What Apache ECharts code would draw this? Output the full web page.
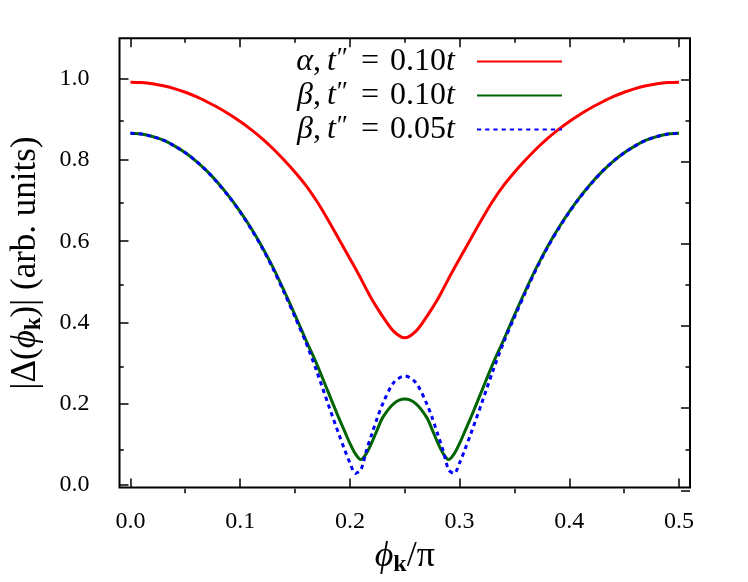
<!DOCTYPE html>
<html><head><meta charset="utf-8">
<script src="https://cdn.jsdelivr.net/npm/echarts@6/dist/echarts.min.js"></script>
<style>html,body{margin:0;padding:0;background:#fff}#c{width:748px;height:582px}</style>
</head><body><div id="c"></div><script>
// ---- data ----
const phi = [0, 0.01, 0.02, 0.03, 0.04, 0.05, 0.06, 0.07, 0.08, 0.09, 0.10, 0.11, 0.12, 0.13, 0.14, 0.15, 0.16, 0.17, 0.18, 0.19,
             0.195, 0.20, 0.205, 0.21, 0.215, 0.22, 0.225, 0.23, 0.24, 0.25, 0.26, 0.27, 0.275, 0.28, 0.285, 0.29, 0.295, 0.30, 0.305,
             0.31, 0.32, 0.33, 0.34, 0.35, 0.36, 0.37, 0.38, 0.39, 0.40, 0.41, 0.42, 0.43, 0.44, 0.45, 0.46, 0.47, 0.48, 0.49, 0.50];
const alpha010 = [0.992, 0.991, 0.988, 0.983, 0.976, 0.967, 0.956, 0.943, 0.929, 0.913, 0.895, 0.875, 0.853, 0.828, 0.800, 0.770, 0.737, 0.698, 0.653, 0.605,
                  0.581, 0.557, 0.533, 0.508, 0.482, 0.457, 0.435, 0.414, 0.378, 0.362, 0.378, 0.414, 0.435, 0.457, 0.482, 0.508, 0.533, 0.557, 0.581,
                  0.605, 0.653, 0.698, 0.737, 0.770, 0.800, 0.828, 0.853, 0.875, 0.895, 0.913, 0.929, 0.943, 0.956, 0.967, 0.976, 0.983, 0.988, 0.991, 0.992];
const beta010 = [0.866, 0.864, 0.858, 0.849, 0.835, 0.818, 0.797, 0.772, 0.743, 0.710, 0.673, 0.632, 0.586, 0.535, 0.478, 0.418, 0.356, 0.296, 0.230, 0.164,
                 0.133, 0.102, 0.076, 0.062, 0.077, 0.104, 0.136, 0.166, 0.200, 0.211, 0.200, 0.166, 0.136, 0.104, 0.077, 0.062, 0.076, 0.102, 0.133,
                 0.164, 0.230, 0.296, 0.356, 0.418, 0.478, 0.535, 0.586, 0.632, 0.673, 0.710, 0.743, 0.772, 0.797, 0.818, 0.835, 0.849, 0.858, 0.864, 0.866];
const beta005 = [0.866, 0.864, 0.858, 0.849, 0.835, 0.818, 0.797, 0.772, 0.742, 0.709, 0.672, 0.630, 0.584, 0.532, 0.474, 0.413, 0.350, 0.278, 0.200, 0.124,
                 0.088, 0.054, 0.028, 0.037, 0.084, 0.125, 0.165, 0.200, 0.252, 0.268, 0.252, 0.200, 0.165, 0.125, 0.084, 0.037, 0.028, 0.054, 0.088,
                 0.124, 0.200, 0.278, 0.350, 0.413, 0.474, 0.532, 0.584, 0.630, 0.672, 0.709, 0.742, 0.772, 0.797, 0.818, 0.835, 0.849, 0.858, 0.864, 0.866];
const seriesNames = ['α, t″ = 0.10t', 'β, t″ = 0.10t', 'β, t″ = 0.05t'];
const seriesLegendRich = ['{g|α}{c|,}{i|t}{p|″}{e|=}{n|0.10}{i|t}', '{g|β}{c|,}{i|t}{p|″}{e|=}{n|0.10}{i|t}', '{g|β}{c|,}{i|t}{p|″}{e|=}{n|0.05}{i|t}'];
const xMajorTicks = [0, 0.1, 0.2, 0.3, 0.4, 0.5];
const xTickLabels = ['0.0', '0.1', '0.2', '0.3', '0.4', '0.5'];
const xMinorTicks = [0.05, 0.15, 0.25, 0.35, 0.45];
const yMajorTicks = [0, 0.2, 0.4, 0.6, 0.8, 1.0];
const yTickLabels = ['0.0', '0.2', '0.4', '0.6', '0.8', '1.0'];
const yMinorTicks = [0.1, 0.3, 0.5, 0.7, 0.9];

const FONT = 'Liberation Serif';
const pairs = (xs, ys) => xs.map((x, i) => [x, ys[i]]);
const findIdx = (arr, v) => arr.findIndex(t => Math.abs(t - v) < 1e-9);
const RECT = { left: 119.3, right: 58, top: 38.3, bottom: 88.7 };

function mkX(gi, position, ticks, len, labels) {
  return {
    type: 'value', gridIndex: gi, position, min: -0.01, max: 0.51,
    axisLine: { show: false, onZero: false },
    axisTick: { show: true, inside: true, length: len, customValues: ticks, lineStyle: { color: '#000', width: 1.5 } },
    axisLabel: { show: labels, customValues: xMajorTicks, margin: 22, fontSize: 24, fontFamily: FONT, color: '#000',
                 formatter: v => { const i = findIdx(xMajorTicks, v); return i >= 0 ? xTickLabels[i] : ''; } },
    splitLine: { show: false }
  };
}
function mkY(gi, position, ticks, len, labels) {
  return {
    type: 'value', gridIndex: gi, position, min: -0.007, max: 1.1,
    axisLine: { show: false, onZero: false },
    axisTick: { show: true, inside: true, length: len, customValues: ticks, lineStyle: { color: '#000', width: 1.5 } },
    axisLabel: { show: labels, customValues: yMajorTicks, margin: 30, fontSize: 24, fontFamily: FONT, color: '#000',
                 formatter: v => { const i = findIdx(yMajorTicks, v); return i >= 0 ? yTickLabels[i] : ''; } },
    splitLine: { show: false }
  };
}
function titleRich(sz) {
  return {
    g: { fontSize: sz, fontFamily: FONT, fontStyle: 'italic', lineHeight: sz + 5 },
    k: { fontSize: Math.round(sz * 0.66), fontFamily: FONT, fontWeight: 'bold', lineHeight: Math.round(sz * 0.55), verticalAlign: 'bottom' },
    n: { fontSize: sz, fontFamily: FONT, lineHeight: sz + 5 }
  };
}

const xMain = mkX(0, 'bottom', xMajorTicks, 9, true);
Object.assign(xMain, { name: '{g|ϕ}{k|k}{n|/π}', nameLocation: 'middle', nameGap: 40,
  nameTextStyle: { color: '#000', fontSize: 36, fontFamily: FONT, rich: titleRich(36) } });
const yMain = mkY(0, 'left', yMajorTicks, 9, true);
Object.assign(yMain, { name: '{n||Δ(}{g|ϕ}{k|k}{n|)| (arb. units)}', nameLocation: 'middle', nameRotate: 90, nameGap: 74,
  nameTextStyle: { color: '#000', fontSize: 35, fontFamily: FONT, rich: titleRich(35) } });

const colors = ['#ff0000', '#006400', '#0000ff'];
const dataSets = [alpha010, beta010, beta005];

const option = {
  animation: false,
  backgroundColor: '#fff',
  grid: [
    Object.assign({ show: true, borderColor: '#000', borderWidth: 2, backgroundColor: 'transparent' }, RECT),
    Object.assign({}, RECT), Object.assign({}, RECT), Object.assign({}, RECT)
  ],
  xAxis: [xMain, mkX(1, 'bottom', xMinorTicks, 4.5, false), mkX(2, 'top', xMajorTicks, 9, false), mkX(3, 'top', xMinorTicks, 4.5, false)],
  yAxis: [yMain, mkY(1, 'left', yMinorTicks, 4.5, false), mkY(2, 'right', yMajorTicks, 9, false), mkY(3, 'right', yMinorTicks, 4.5, false)],
  legend: {
    data: seriesNames, orient: 'vertical', right: 185, top: 45, align: 'right', padding: 0,
    itemWidth: 85, itemHeight: 14, itemGap: 1, selectedMode: false,
    itemStyle: { opacity: 0 },
    formatter: name => seriesLegendRich[seriesNames.indexOf(name)],
    textStyle: { color: '#000', fontSize: 32, fontFamily: FONT, lineHeight: 30, padding: [0, 17, 0, 0], rich: {
      g: { fontSize: 32, fontFamily: FONT, fontStyle: 'italic', lineHeight: 30 },
      c: { fontSize: 32, fontFamily: FONT, lineHeight: 30, padding: [0, 6, 0, 0] },
      i: { fontSize: 32, fontFamily: FONT, fontStyle: 'italic', lineHeight: 30 },
      p: { fontSize: 27, fontFamily: FONT, lineHeight: 30, padding: [0, 2, 6, 1] },
      e: { fontSize: 32, fontFamily: FONT, lineHeight: 30, padding: [0, 11, 0, 11] },
      n: { fontSize: 32, fontFamily: FONT, lineHeight: 30 }
    }}
  },
  series: seriesNames.map((n, k) => ({
    name: n, type: 'line', xAxisIndex: 0, yAxisIndex: 0,
    data: pairs(phi, dataSets[k]), symbol: 'none', smooth: 0.3,
    color: colors[k],
    lineStyle: { color: colors[k], width: 3, type: k === 2 ? [4.2, 4] : 'solid' }
  }))
};
const chart = echarts.init(document.getElementById('c'), null, { renderer: 'canvas' });
chart.setOption(option);
</script></body></html>
